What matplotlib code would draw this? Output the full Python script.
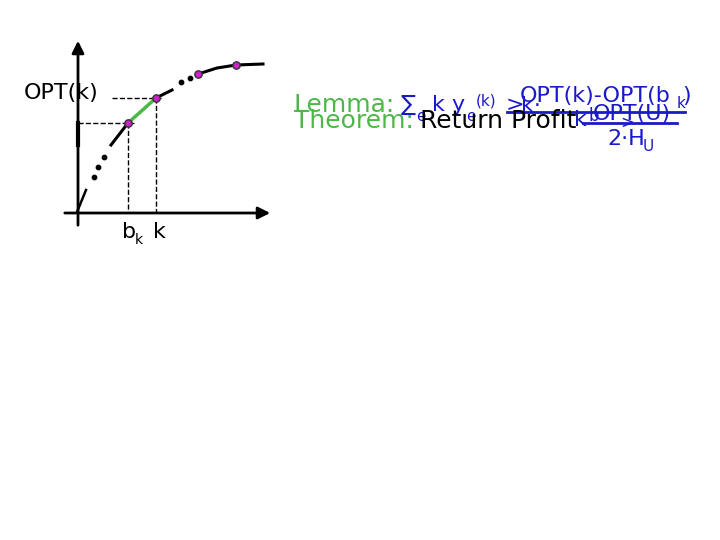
import matplotlib
matplotlib.use("Agg")
import matplotlib.pyplot as plt

# diagram geometry (pixel coords, y down)
origin = (78, 213)
x_axis_end = 273
y_axis_top = 38

# marked points on the OPT curve
pts_x = [128, 156, 198, 236]
pts_y = [123, 98, 74, 65]

# solid pieces of the curve
seg_start_x = [77, 86]
seg_start_y = [212, 190]
seg_bk_x = [111, 128]
seg_bk_y = [145, 123]
seg_green_x = [128, 156]
seg_green_y = [123, 98]
seg_after_x = [156, 172]
seg_after_y = [98, 90]
seg_tail_x = [198, 217, 236, 263]
seg_tail_y = [74, 68, 65, 64]

# dotted gaps on the curve
dots_x = [94, 98, 104, 181, 190]
dots_y = [177, 167, 157, 82, 78]

BLUE = "#1a1acc"
GREEN = "#4db848"
MAGENTA = "#cc22cc"

fig = plt.figure(figsize=(7.2, 5.4), dpi=100)
ax = fig.add_axes([0, 0, 1, 1])
ax.set_xlim(0, 720)
ax.set_ylim(540, 0)
ax.axis("off")

# axes with arrows
ax.annotate("", xy=(x_axis_end, origin[1]), xytext=(62, origin[1]),
            arrowprops=dict(arrowstyle="-|>", color="black", lw=2, mutation_scale=18))
ax.annotate("", xy=(origin[0], y_axis_top), xytext=(origin[0], 228),
            arrowprops=dict(arrowstyle="-|>", color="black", lw=2, mutation_scale=18))
ax.plot([origin[0], origin[0]], [123, 145], color="black", lw=3)

# dashed guides
ax.plot([origin[0], 134], [pts_y[0], pts_y[0]], "k--", lw=1)
ax.plot([112, 161], [pts_y[1], pts_y[1]], "k--", lw=1)
ax.plot([pts_x[0], pts_x[0]], [pts_y[0], origin[1]], "k--", lw=1)
ax.plot([pts_x[1], pts_x[1]], [pts_y[1], origin[1]], "k--", lw=1)

# curve
ax.plot(seg_start_x, seg_start_y, color="black", lw=1.8)
ax.plot(seg_bk_x, seg_bk_y, color="black", lw=2.2)
ax.plot(seg_green_x, seg_green_y, color=GREEN, lw=2.5)
ax.plot(seg_after_x, seg_after_y, color="black", lw=2.2)
ax.plot(seg_tail_x, seg_tail_y, color="black", lw=2.2)
ax.scatter(dots_x, dots_y, s=10, color="black", zorder=3)
ax.scatter(pts_x, pts_y, s=28, color=MAGENTA, edgecolors="#333333", linewidths=1, zorder=4)

# diagram labels
ax.text(61, 93, "OPT(k)", fontsize=16, ha="center", va="center")
ax.text(122, 238, "b", fontsize=16, ha="left", va="baseline")
ax.text(135, 244, "k", fontsize=10, ha="left", va="baseline")
ax.text(153, 238, "k", fontsize=16, ha="left", va="baseline")

# Lemma line
fs = 16
fs_big = 18
ax.text(294, 112, "Lemma:", fontsize=fs_big, color=GREEN, va="baseline")
ax.text(401, 111, "\u2211", fontsize=fs, color=BLUE, va="baseline")
ax.text(416, 121, "e", fontsize=11, color=BLUE, va="baseline")
ax.text(432, 111, "k", fontsize=fs, color=BLUE, va="baseline")
ax.text(451, 111, "y", fontsize=fs, color=BLUE, va="baseline")
ax.text(466, 121, "e", fontsize=11, color=BLUE, va="baseline")
ax.text(476, 106, "(k)", fontsize=11, color=BLUE, va="baseline")
ax.text(506, 111, ">", fontsize=fs, color=BLUE, va="baseline")
ax.text(521, 112, "k\u00b7", fontsize=fs, color=BLUE, va="baseline")
ax.text(520, 102, "OPT(k)-OPT(b", fontsize=fs, color=BLUE, va="baseline")
ax.text(677, 108, "k", fontsize=11, color=BLUE, va="baseline")
ax.text(682, 102, ")", fontsize=fs, color=BLUE, va="baseline")
ax.plot([507, 685], [111.5, 111.5], color=BLUE, lw=2)

# Theorem line
ax.text(294, 128, "Theorem:", fontsize=fs_big, color=GREEN, va="baseline")
ax.text(420, 128, "Return Profit", fontsize=fs_big, color="black", va="baseline")
ax.text(593, 120, "OPT(U)", fontsize=fs, color=BLUE, va="baseline")
ax.text(574, 126, "k", fontsize=fs, color=BLUE, va="baseline")
ax.text(588, 121, "b", fontsize=12, color=BLUE, va="baseline")
ax.text(620, 128, ">", fontsize=12, color=BLUE, va="baseline")
ax.plot([583, 677], [122.5, 122.5], color=BLUE, lw=2)
ax.text(607, 145, "2\u00b7H", fontsize=fs, color=BLUE, va="baseline")
ax.text(643, 151, "U", fontsize=11, color=BLUE, va="baseline")

fig.savefig("out.png", dpi=100)
